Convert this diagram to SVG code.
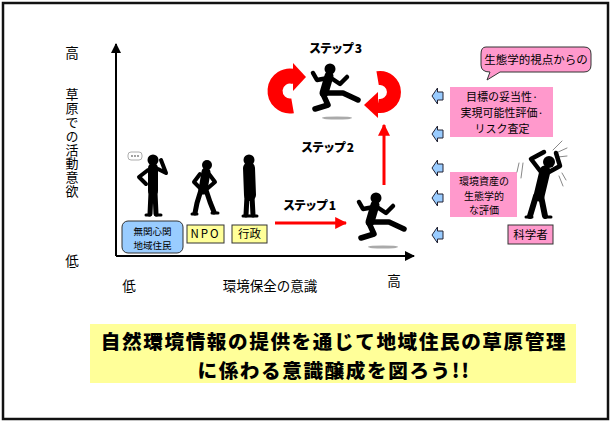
<svg xmlns="http://www.w3.org/2000/svg" width="612" height="423" viewBox="0 0 612 423">
  <style>
    text { font-family: "Noto Sans CJK JP", "Noto Sans", sans-serif; fill: #000; }
    .lbl { font-size: 13.5px; }
    .vert { font-size: 13px; writing-mode: vertical-rl; letter-spacing: 0.8px; }
    .sm { font-size: 11.5px; }
    .s11 { font-size: 11px; }
    .s10 { font-size: 10px; }
    .xs { font-size: 9.5px; }
    .step { font-size: 12px; font-weight: 900; letter-spacing: -1px; }
    .banner { font-size: 19.6px; font-weight: 900; letter-spacing: 1.6px; }
    .pink { fill: #ff99cc; }
    .pinkb { fill: #ff99cc; stroke: #333; stroke-width: 1; }
    .yel { fill: #ffff99; stroke: #333; stroke-width: 1; }
    .sil { fill: none; stroke: #000; stroke-linecap: round; stroke-linejoin: round; }
    .hint { fill: none; stroke: #888; stroke-width: 1; stroke-linecap: round; }
    .blue { fill: #99ccff; stroke: #223; stroke-width: 1; }
    .red { stroke: #ff0000; fill: none; }
  </style>
  <defs>
    <marker id="blk" viewBox="0 0 10 10" refX="9" refY="5" markerWidth="5" markerHeight="5" orient="auto">
      <path d="M0,0 L10,5 L0,10 z" fill="#000"/>
    </marker>
    <marker id="redHead" viewBox="0 0 10 10" refX="9" refY="5" markerWidth="4" markerHeight="4" orient="auto">
      <path d="M0,0 L10,5 L0,10 z" fill="#ff0000"/>
    </marker>
    <!-- running figure, local box about 56 x 50 -->
    <g id="runner">
      <ellipse cx="30" cy="55" rx="15" ry="1.6" fill="#aaa"/>
      <circle cx="23" cy="6" r="5.5" fill="#000"/>
      <path class="sil" stroke-width="9" d="M22,13 L17,30"/>
      <path class="sil" stroke-width="4.5" d="M21,15 L10,17 L6,10"/>
      <path class="sil" stroke-width="4.5" d="M24,15 L33,21 L40,14"/>
      <path class="sil" stroke-width="5.5" d="M18,30 L36,30 L51,37"/>
      <path class="sil" stroke-width="5.5" d="M16,31 L21,42 L8,46"/>
    </g>
    <!-- left-pointing block arrow centred at 0,0 -->
    <polygon id="barrow" class="blue" points="-5.5,0 0,-8 0,-4 5.5,-4 5.5,4 0,4 0,8"/>
  </defs>

  <rect x="3" y="3" width="605" height="416" fill="#fff" stroke="#111" stroke-width="2.5"/>

  <!-- axes -->
  <g id="axes">
    <path d="M116,256 L116,44" stroke="#000" stroke-width="2" fill="none" marker-end="url(#blk)"/>
    <path d="M116,256 L414,256" stroke="#000" stroke-width="2" fill="none" marker-end="url(#blk)"/>
    <text class="lbl" x="72" y="58" text-anchor="middle">高</text>
    <text class="vert" x="72" y="88">草原での活動意欲</text>
    <text class="lbl" x="72" y="266" text-anchor="middle">低</text>
    <text class="lbl" x="129" y="291" text-anchor="middle">低</text>
    <text class="lbl" x="270" y="291" text-anchor="middle">環境保全の意識</text>
    <text class="lbl" x="394" y="286" text-anchor="middle">高</text>
  </g>

  <!-- residents without interest -->
  <g id="residents">
    <rect x="128" y="152" width="14" height="8" rx="3" fill="#fff" stroke="#999" stroke-width="0.8"/>
    <circle cx="132" cy="156" r="0.9" fill="#777"/>
    <circle cx="135" cy="156" r="0.9" fill="#777"/>
    <circle cx="138" cy="156" r="0.9" fill="#777"/>
    <circle cx="153" cy="160" r="5.5" fill="#000"/>
    <path class="sil" stroke-width="10" d="M153,168 L153,191"/>
    <path class="sil" stroke-width="4" d="M148,170 L139,177 L146,184"/>
    <path class="sil" stroke-width="4" d="M158,169 L166,173 L161,160"/>
    <path class="sil" stroke-width="5" d="M151,192 L150,214 M155,192 L156,214"/>
    <path class="sil" stroke-width="3" d="M146,215 L150,215 M156,215 L161,215"/>
    <rect x="122" y="221" width="61" height="32" rx="6" fill="#99ccff" stroke="#333" stroke-width="1"/>
    <text class="xs" text-anchor="middle"><tspan x="152.5" y="234.5">無関心関</tspan><tspan x="152.5" y="248.5">地域住民</tspan></text>
  </g>

  <!-- NPO -->
  <g id="npo">
    <circle cx="207" cy="165" r="5" fill="#000"/>
    <path class="sil" stroke-width="9" d="M206,172 L203,190"/>
    <path class="sil" stroke-width="4" d="M200,174 L194,182 L200,188 M209,174 L215,182 L208,188"/>
    <path class="sil" stroke-width="5" d="M201,190 L197,203 L195,213 M206,190 L210,202 L214,212"/>
    <path class="sil" stroke-width="3" d="M192,214 L197,214 M212,213 L218,213"/>
    <rect class="yel" x="187" y="225" width="37" height="18"/>
    <text class="sm" x="205.5" y="238" text-anchor="middle" letter-spacing="2">NPO</text>
  </g>

  <!-- administration -->
  <g id="gov">
    <circle cx="249" cy="160" r="5.5" fill="#000"/>
    <path class="sil" stroke-width="12" d="M249,168 L250,195"/>
    <path class="sil" stroke-width="5" d="M247,196 L246,215 M252,196 L253,215"/>
    <path class="sil" stroke-width="3" d="M243,216 L249,216 M250,216 L257,216"/>
    <rect class="yel" x="232" y="225" width="35" height="18"/>
    <text class="sm" x="249.5" y="238" text-anchor="middle">行政</text>
  </g>

  <!-- step 1 runner -->
  <g id="step1">
    <text class="step" x="309" y="210" text-anchor="middle">ステップ 1</text>
    <use href="#runner" x="353" y="192"/>
  </g>

  <!-- step 2 label -->
  <g id="step2">
    <text class="step" x="327" y="152" text-anchor="middle">ステップ 2</text>
  </g>

  <!-- step 3 runner with cycle arrows -->
  <g id="step3">
    <text class="step" x="335" y="53" text-anchor="middle">ステップ 3</text>
    <use href="#runner" x="307" y="63"/>
    <path class="red" stroke-width="15" d="M292.6,105.8 A15,15 0 1 1 295.1,76.9"/>
    <polygon points="293,63 306,77 293,91" fill="#ff0000"/>
    <path class="red" stroke-width="14" d="M377.6,78.2 A14,14 0 1 1 377.6,105.8"/>
    <polygon points="378,92 364,105 378,118" fill="#ff0000"/>
  </g>

  <!-- ecological viewpoint -->
  <g id="scientist">
    <path class="pinkb" d="M486,47 L584,47 Q591,47 591,54 L591,65 Q591,72 584,72 L500,72 L487,80 L490,72 Q481,72 481,65 L481,54 Q481,47 486,47 z"/>
    <text class="sm" x="536" y="64" text-anchor="middle">生態学的視点からの</text>
    <rect class="pink" x="450" y="87" width="103" height="50"/>
    <text class="s11" text-anchor="middle"><tspan x="502" y="101">目標の妥当性·</tspan><tspan x="502" y="117">実現可能性評価·</tspan><tspan x="502" y="133">リスク査定</tspan></text>
    <rect class="pink" x="450" y="172" width="67" height="45"/>
    <text class="s10" text-anchor="middle"><tspan x="484" y="185">環境資産の</tspan><tspan x="484" y="199.5">生態学的</tspan><tspan x="484" y="214">な評価</tspan></text>
    <path class="hint" d="M553,150 L562,141 M556,153 L567,148 M558,157 L567,156 M519,163 L517,172 M523,163 L521,178 M562,173 L566,180 M559,176 L563,186"/>
    <circle cx="549" cy="162" r="6" fill="#000"/>
    <path class="sil" stroke-width="11" d="M545,171 L539,196"/>
    <path class="sil" stroke-width="4.5" d="M541,172 L531,159 L544,152 M549,172 L560,166 L556,153"/>
    <path class="sil" stroke-width="6" d="M536,196 L530,216 M541,196 L545,216"/>
    <path class="sil" stroke-width="3" d="M526,217 L532,217 M545,217 L551,217"/>
    <rect class="pinkb" x="508" y="225" width="45" height="19"/>
    <text class="sm" x="530.5" y="239" text-anchor="middle">科学者</text>
  </g>

  <!-- information flow arrows and steps -->
  <g id="connectors">
    <path class="red" stroke-width="3" d="M275,223 L346,223" marker-end="url(#redHead)"/>
    <path class="red" stroke-width="3" d="M384,185 L384,125" marker-end="url(#redHead)"/>
    <use href="#barrow" x="437.5" y="96"/>
    <use href="#barrow" x="437.5" y="134"/>
    <use href="#barrow" x="437.5" y="168"/>
    <use href="#barrow" x="437.5" y="198"/>
    <use href="#barrow" x="437.5" y="235"/>
  </g>

  <!-- goal banner -->
  <g id="banner">
    <rect x="90" y="324" width="486" height="59" fill="#ffff99"/>
    <text class="banner" text-anchor="middle"><tspan x="334" y="349">自然環境情報の提供を通じて地域住民の草原管理</tspan><tspan x="334" y="378">に係わる意識醸成を図ろう!!</tspan></text>
  </g>
</svg>
